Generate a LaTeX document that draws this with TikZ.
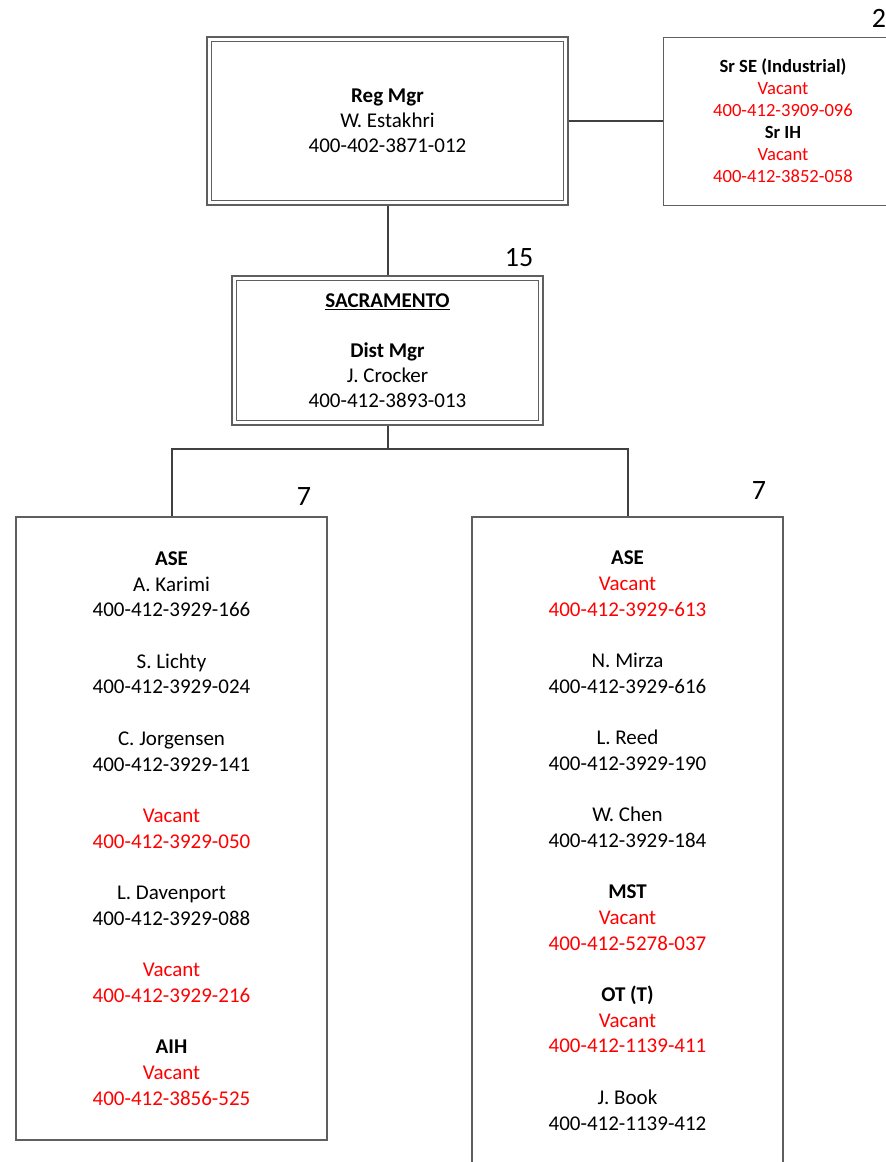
\documentclass[tikz,border=0pt]{standalone}
\usepackage{fontspec}
\setmainfont{Carlito}
\usepackage{tikz}
\definecolor{vac}{RGB}{255,0,0}
\definecolor{boxline}{RGB}{95,95,95}
\definecolor{conline}{RGB}{64,64,64}
\newcommand{\vac}[1]{\textcolor{vac}{#1}}
\tikzset{node distance=2cm, auto}
\tikzset{
  mgr/.style={draw=boxline, line width=1.1pt, inner sep=0pt, align=center, font=\fontsize{21}{25}\selectfont},
  inframe/.style={draw=boxline, line width=1.1pt},
  unit/.style={draw=boxline, line width=1.2pt, inner sep=0pt, align=center, font=\fontsize{21}{25.7}\selectfont},
  cnt/.style={inner sep=0pt, font=\fontsize{28}{30}\selectfont},
  link/.style={draw=conline, line width=2pt}
}

\begin{document}
\begin{tikzpicture}[x=1pt, y=-1pt]
  \useasboundingbox (0,0) rectangle (886,1162);
  \clip (0,0) rectangle (886,1162);

  \node (Reg)[mgr, minimum width=361pt, minimum height=168pt] at (387.5,121) {\textbf{Reg Mgr}\\W. Estakhri\\400-402-3871-012};
  \draw[inframe] ([shift={(5pt,-5pt)}]Reg.north west) rectangle ([shift={(-5pt,5pt)}]Reg.south east);
  \node (Sr)[unit, line width=1pt, minimum width=240pt, minimum height=168pt, font=\fontsize{18.6}{22}\selectfont] at (783,121)
    {\textbf{Sr SE (Industrial)}\\\vac{Vacant}\\\vac{400-412-3909-096}\\\textbf{Sr IH}\\\vac{Vacant}\\\vac{400-412-3852-058}};
  \node (Dist)[mgr, minimum width=311pt, minimum height=149pt] at (387.5,350.5)
    {\underline{\textbf{SACRAMENTO}}\\[25pt]\textbf{Dist Mgr}\\J. Crocker\\400-412-3893-013};
  \draw[inframe] ([shift={(5pt,-5pt)}]Dist.north west) rectangle ([shift={(-5pt,5pt)}]Dist.south east);

  \node (Left)[unit, minimum width=311pt, minimum height=623pt] at (171.5,828.5)
    {\textbf{ASE}\\A. Karimi\\400-412-3929-166\\[25.7pt]
     S. Lichty\\400-412-3929-024\\[25.7pt]
     C. Jorgensen\\400-412-3929-141\\[25.7pt]
     \vac{Vacant}\\\vac{400-412-3929-050}\\[25.7pt]
     L. Davenport\\400-412-3929-088\\[25.7pt]
     \vac{Vacant}\\\vac{400-412-3929-216}\\[25.7pt]
     \textbf{AIH}\\\vac{Vacant}\\\vac{400-412-3856-525}};
  \node (Right)[unit, minimum width=311pt, minimum height=647pt] at (627.5,840.5)
    {\textbf{ASE}\\\vac{Vacant}\\\vac{400-412-3929-613}\\[25.7pt]
     N. Mirza\\400-412-3929-616\\[25.7pt]
     L. Reed\\400-412-3929-190\\[25.7pt]
     W. Chen\\400-412-3929-184\\[25.7pt]
     \textbf{MST}\\\vac{Vacant}\\\vac{400-412-5278-037}\\[25.7pt]
     \textbf{OT (T)}\\\vac{Vacant}\\\vac{400-412-1139-411}\\[25.7pt]
     J. Book\\400-412-1139-412};

  \node (cnt2)[cnt] at (879,18) {2};
  \node (cnt15)[cnt] at (519,258) {15};
  \node (cntL)[cnt] at (304,497) {7};
  \node (cntR)[cnt] at (759,491) {7};

  \coordinate (J) at (387.5,449);
  \draw[link] (Reg) -- (Sr);
  \draw[link] (Reg) -- (Dist);
  \draw[link] (Dist) -- (J) -| (Left);
  \draw[link] (J) -| (Right);

\end{tikzpicture}
\end{document}
